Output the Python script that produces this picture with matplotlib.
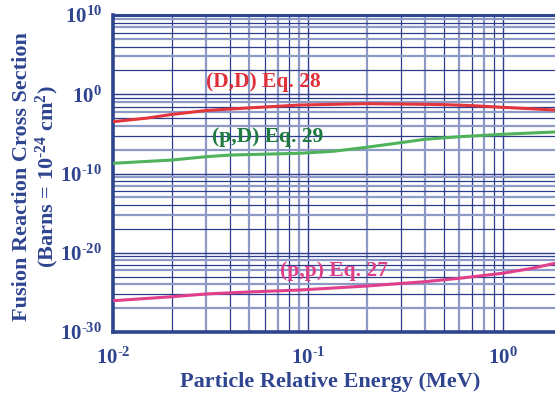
import numpy as np
import matplotlib
matplotlib.use('Agg')
import matplotlib.pyplot as plt

# Energies (MeV) and exponents of the cross section (barns)
DD_ENERGY = [0.01, 0.015, 0.02, 0.03, 0.04, 0.05, 0.091, 0.2, 0.4, 0.5, 0.7, 1.0, 1.4, 1.86]
DD_EXPONENT = [-3.46, -3.0, -2.55, -2.05, -1.86, -1.72, -1.36, -1.19, -1.27, -1.31, -1.44, -1.65, -1.83, -1.99]

PD_ENERGY = [0.01, 0.02, 0.03, 0.04, 0.091, 0.135, 0.2, 0.3, 0.4, 0.6, 1.0, 1.86]
PD_EXPONENT = [-8.71, -8.30, -7.88, -7.67, -7.45, -7.20, -6.69, -6.11, -5.68, -5.36, -5.05, -4.76]

PP_ENERGY = [0.01, 0.02, 0.03, 0.05, 0.091, 0.2, 0.4, 0.6, 1.0, 1.4, 1.86]
PP_EXPONENT = [-26.05, -25.55, -25.2, -24.95, -24.70, -24.2, -23.65, -23.22, -22.59, -21.99, -21.33]

Y_TICKS = [-30, -20, -10, 0, 10]
X_TICKS = [0.01, 0.1, 1.0]

NAVY = '#2f4590'
DARK_GRID = '#2b3d8c'
LIGHT_GRID = '#8e9ac6'

plt.rcParams['font.family'] = 'Liberation Serif'
plt.rcParams['font.weight'] = 'bold'
plt.rcParams['mathtext.fontset'] = 'custom'
plt.rcParams['mathtext.rm'] = 'Liberation Serif:bold'
plt.rcParams['mathtext.it'] = 'Liberation Serif:bold'
plt.rcParams['mathtext.bf'] = 'Liberation Serif:bold'
plt.rcParams['mathtext.default'] = 'rm'


def power(v):
    return r'10$^{\text{%s}}$' % v


fig = plt.figure(figsize=(5.55, 3.96), dpi=100)
ax = fig.add_axes([113.3 / 555, 1 - 332 / 396, 1 - 113.3 / 555, (332 - 15) / 396])

ax.set_xscale('log')
ax.set_xlim(0.01, 1.86)
ax.set_ylim(-30, 10)

# vertical grid: standard log paper lines
styles = [(DARK_GRID, 0.9), (LIGHT_GRID, 1.6)]
i = 0
for dec in [0.01, 0.1, 1.0]:
    for k in range(1, 10):
        xv = dec * k
        if xv <= 0.01 or xv >= 1.86:
            continue
        col, lw = styles[i % 2] if k != 1 else (DARK_GRID, 1.0)
        ax.axvline(xv, color=col, lw=lw, zorder=1)
        i += 1

# horizontal grid: each log cycle spans ten decades
i = 0
for base in [-30, -20, -10, 0]:
    for k in range(1, 10):
        yv = base + 10 * np.log10(k)
        if yv <= -30:
            continue
        col, lw = styles[(i + 1) % 2] if k != 1 else (DARK_GRID, 1.0)
        ax.axhline(yv, color=col, lw=lw, zorder=1)
        i += 1

ax.plot(DD_ENERGY, DD_EXPONENT, color='#e2353c', lw=2.2, zorder=3)
ax.plot(PD_ENERGY, PD_EXPONENT, color='#4fb35c', lw=2.2, zorder=3)
ax.plot(PP_ENERGY, PP_EXPONENT, color='#e0408a', lw=2.2, zorder=3)

ax.text(0.0587, 1.55, '(D,D) Eq. 28', color='#e0303a', fontsize=15.5,
        ha='center', va='center', zorder=4)
ax.text(0.0623, -5.39, '(p,D) Eq. 29', color='#1e7a3e', fontsize=15.5,
        ha='center', va='center', zorder=4)
ax.text(0.136, -22.3, '(p,p) Eq. 27', color='#de3f88', fontsize=15.5,
        ha='center', va='center', zorder=4)

ax.set_yticks(Y_TICKS)
ax.set_yticklabels([power(v) for v in Y_TICKS])
ax.set_xticks(X_TICKS)
ax.set_xticklabels([power(-2), power(-1), power(0)])
ax.xaxis.set_minor_locator(matplotlib.ticker.NullLocator())
ax.tick_params(length=0, labelsize=15, labelcolor=NAVY, pad=8)
ax.tick_params(axis='x', pad=11)

for side in ['left', 'bottom']:
    ax.spines[side].set_linewidth(2.6)
    ax.spines[side].set_color(NAVY)
ax.spines['top'].set_linewidth(2.2)
ax.spines['top'].set_color(NAVY)
ax.spines['right'].set_visible(False)

fig.text(330 / 555, 1 - 382 / 396, 'Particle Relative Energy (MeV)', color=NAVY,
         fontsize=16, ha='center', va='center')
fig.text(22 / 555, 1 - 177 / 396, 'Fusion Reaction Cross Section', color=NAVY,
         fontsize=16, ha='center', va='center', rotation=90)
fig.text(47 / 555, 1 - 177 / 396, '(Barns = ' + power(-24) + r' cm$^{\text{2}}$)', color=NAVY,
         fontsize=16, ha='center', va='center', rotation=90)

plt.savefig('out.png', dpi=100)
plt.close()
